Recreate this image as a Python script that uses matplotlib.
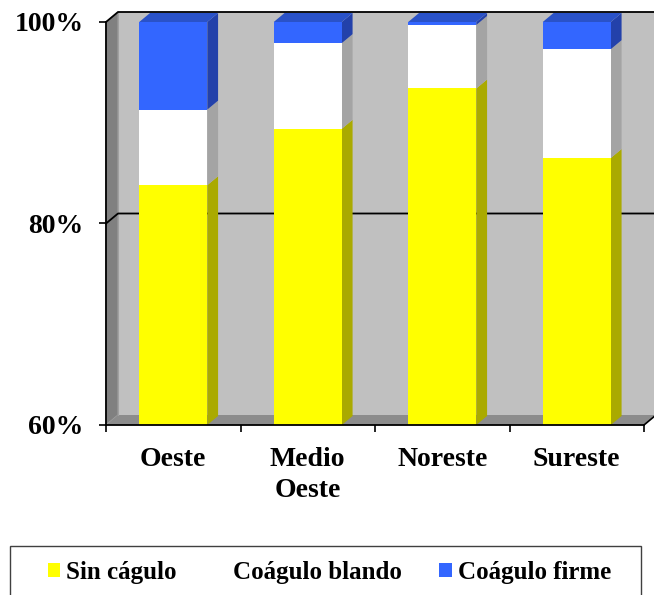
import matplotlib
matplotlib.use("Agg")
import matplotlib.pyplot as plt
from matplotlib.patches import Polygon, Rectangle, Patch
import numpy as np

# data (percent of samples)
regions = ["Oeste", "Medio\nOeste", "Noreste", "Sureste"]
sin_coagulo = [83.8, 89.4, 93.4, 86.5]
coagulo_blando = [7.5, 8.5, 6.3, 10.8]
coagulo_firme = [8.7, 2.1, 0.3, 2.7]
series_names = ["Sin cágulo", "Coágulo blando", "Coágulo firme"]
y_ticks = [60, 80, 100]
y_tick_labels = ["60%", "80%", "100%"]

front = ["#FFFF00", "#FFFFFF", "#3366FF"]
side = ["#AAAA00", "#A4A4A4", "#2341AA"]
top_col = "#2A52C8"

W, H = 654, 595
plt.rcParams["font.family"] = ["Liberation Serif", "DejaVu Serif"]
plt.rcParams["font.weight"] = "bold"

fig = plt.figure(figsize=(W / 100, H / 100), dpi=100)
x0, x1, y_top, y_bot = 106, 644, 22, 425
ax = fig.add_axes([x0 / W, (H - y_bot) / H, (x1 - x0) / W, (y_bot - y_top) / H])
ax.set_xlim(0, 4)
ax.set_ylim(60, 100)
ax.patch.set_visible(False)

# depth offset of the 3d box, in data units
dx = 12 / ((x1 - x0) / 4)
dy = 10 / ((y_bot - y_top) / 40)

# walls
ax.add_patch(Rectangle((dx, 60 + dy), 5, 40, facecolor="#C0C0C0",
                       edgecolor="none", clip_on=False, zorder=0.5))
ax.add_patch(Polygon([(0, 60), (dx, 60 + dy), (dx, 100 + dy), (0, 100)],
                     facecolor="#808080", edgecolor="#A0A0A0", lw=0.8,
                     clip_on=False, zorder=0.6))
ax.add_patch(Polygon([(0, 60), (4, 60), (4 + dx, 60 + dy), (dx, 60 + dy)],
                     facecolor="#8C8C8C", edgecolor="none",
                     clip_on=False, zorder=0.6))
ax.plot([dx, dx], [60 + dy, 100 + dy], color="#A0A0A0", lw=0.8, clip_on=False, zorder=0.7)
ax.plot([4, 4 + dx], [60, 60 + dy], color="black", lw=1.2, clip_on=False, zorder=3)

# gridlines on side wall and back wall
for g in [80, 100]:
    ax.plot([0, dx, 4 + dx + 1], [g, g + dy, g + dy], color="black", lw=1.3,
            clip_on=False, zorder=0.8)

# stacked 3d columns
centers = np.arange(len(regions)) + 0.5
w = 0.253
d = 0.9
stack = [sin_coagulo, coagulo_blando, coagulo_firme]
bottoms = np.zeros(len(regions))
for k, vals in enumerate(stack):
    vals = np.array(vals)
    ax.bar(centers, vals, bottom=bottoms, width=2 * w, color=front[k],
           edgecolor="none", zorder=2)
    for c, b, v in zip(centers, bottoms, vals):
        lo, hi = max(b, 60), b + v
        if hi <= 60:
            continue
        ax.add_patch(Polygon([(c + w, lo), (c + w + d * dx, lo + d * dy),
                              (c + w + d * dx, hi + d * dy), (c + w, hi)],
                             facecolor=side[k], edgecolor="none",
                             clip_on=False, zorder=1.9))
    bottoms = bottoms + vals

for c, t in zip(centers, bottoms):
    ax.add_patch(Polygon([(c - w, t), (c + w, t), (c + w + d * dx, t + d * dy),
                          (c - w + d * dx, t + d * dy)],
                         facecolor=top_col, edgecolor="none",
                         clip_on=False, zorder=2.1))

# axes
for s in ["top", "right"]:
    ax.spines[s].set_visible(False)
for s in ["left", "bottom"]:
    ax.spines[s].set_linewidth(1.3)
    ax.spines[s].set_zorder(3)
ax.set_yticks(y_ticks)
ax.set_yticklabels(y_tick_labels, fontsize=20, fontweight="bold")
ax.tick_params(axis="y", direction="out", length=5, width=1.2, pad=11)
ax.set_xticks(centers)
ax.set_xticklabels(regions, fontsize=20, fontweight="bold", linespacing=1.3)
ax.set_xticks(np.arange(5), minor=True)
ax.tick_params(axis="x", which="major", length=0, pad=16)
ax.tick_params(axis="x", which="minor", direction="out", length=5, width=1.2)

# legend
handles = [Patch(facecolor=front[k], edgecolor="none") for k in range(3)]
fig.legend(handles, series_names, loc="center", ncol=3, frameon=False,
           bbox_to_anchor=(329.5 / W, 1 - 572 / H),
           handlelength=0.5, handleheight=0.5, handletextpad=0.25,
           columnspacing=1.5, prop={"weight": "bold", "size": 18})
fig.add_artist(Rectangle((10 / W, -0.02), 631 / W, 0.02 + 1 - 546 / H,
                         transform=fig.transFigure, fill=False,
                         edgecolor="#404040", lw=1))

fig.savefig("out.png", dpi=100)
